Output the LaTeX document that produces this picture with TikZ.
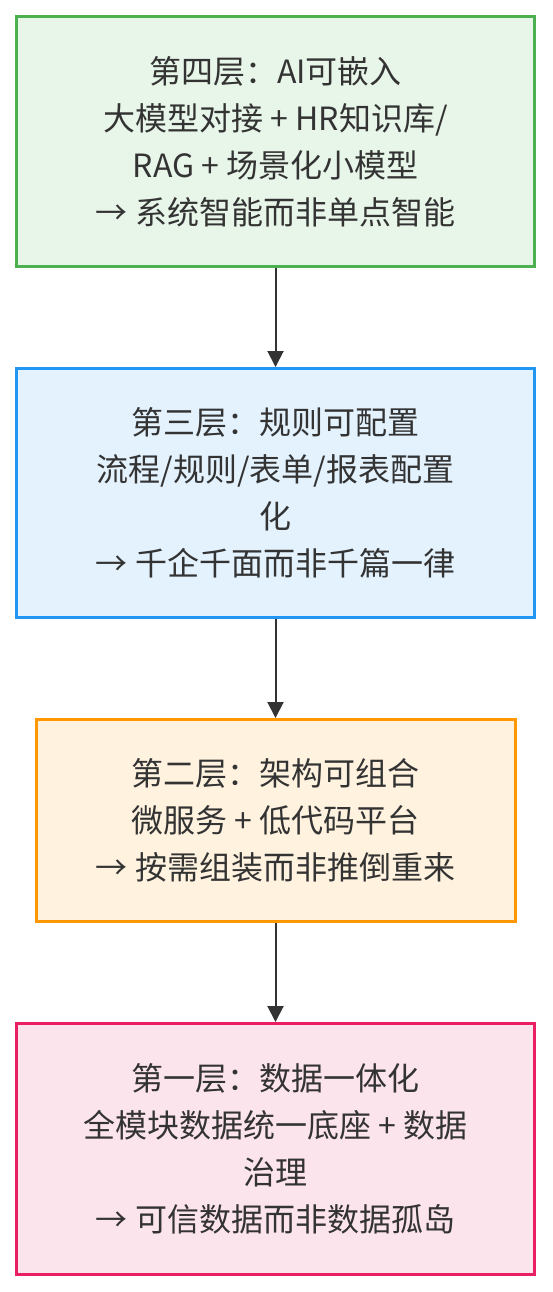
\documentclass[tikz,border=0pt]{standalone}
\usepackage{fontspec}
\setmainfont{Noto Sans CJK SC}
\usetikzlibrary{positioning,arrows.meta}
\definecolor{txtgray}{HTML}{333333}
\definecolor{greenline}{HTML}{4CAF50}
\definecolor{greenfill}{HTML}{E8F5E9}
\definecolor{blueline}{HTML}{2196F3}
\definecolor{bluefill}{HTML}{E3F2FD}
\definecolor{orangeline}{HTML}{FF9800}
\definecolor{orangefill}{HTML}{FFF3E0}
\definecolor{pinkline}{HTML}{E91E63}
\definecolor{pinkfill}{HTML}{FCE4EC}
\tikzset{
  layerbox/.style={draw, line width=3pt, rectangle, align=center,
    text=txtgray, inner sep=0pt, minimum width=518pt,
    font=\fontsize{32}{47}\selectfont},
  flow/.style={draw=txtgray, line width=2pt, -{Triangle[length=16pt,width=16pt]}}
}
\begin{document}
\begin{tikzpicture}[x=1pt, y=-1pt, node distance=99pt]
\useasboundingbox (0,0) rectangle (552,1292);
\node[layerbox, draw=greenline, fill=greenfill, minimum height=250pt] (layer4) at (275.5,141.5)
  {第四层：AI可嵌入\\大模型对接 + HR知识库/\\RAG + 场景化小模型\\→ 系统智能而非单点智能};
\node[layerbox, draw=blueline, fill=bluefill, minimum height=249pt, below=of layer4] (layer3)
  {第三层：规则可配置\\流程/规则/表单/报表配置\\化\\→ 千企千面而非千篇一律};
\node[layerbox, draw=orangeline, fill=orangefill, minimum height=202pt, minimum width=479pt, below=of layer3] (layer2)
  {第二层：架构可组合\\微服务 + 低代码平台\\→ 按需组装而非推倒重来};
\node[layerbox, draw=pinkline, fill=pinkfill, minimum height=251pt, below=of layer2] (layer1)
  {第一层：数据一体化\\全模块数据统一底座 + 数据\\治理\\→ 可信数据而非数据孤岛};
\draw[flow] (layer4) -- (layer3);
\draw[flow] (layer3) -- (layer2);
\draw[flow] (layer2) -- (layer1);
\end{tikzpicture}
\end{document}
